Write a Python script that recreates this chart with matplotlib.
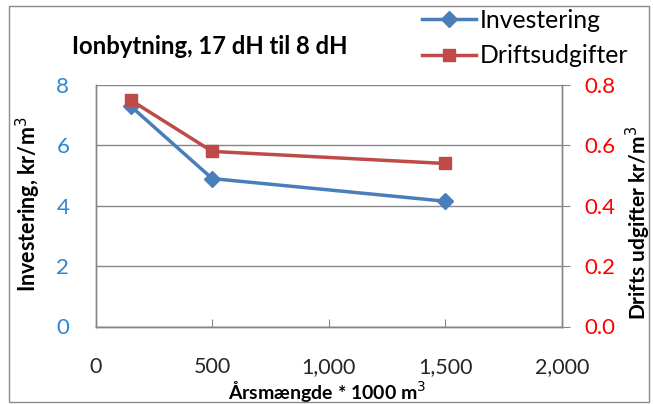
import matplotlib
matplotlib.use("Agg")
import matplotlib.pyplot as plt
from matplotlib.patches import Rectangle
from matplotlib.lines import Line2D

plt.rcParams['font.family'] = ['Lato', 'DejaVu Sans']

# Data
years = [150, 500, 1500]
investering = [7.3, 4.9, 4.15]
drift = [0.75, 0.58, 0.54]
x_ticks = [0, 500, 1000, 1500, 2000]
x_ticklabels = ['0', '500', '1,000', '1,500', '2,000']
left_ticks = [0, 2, 4, 6, 8]
right_ticks = [0.0, 0.2, 0.4, 0.6, 0.8]

blue = '#4A7EBB'
red = '#BE4B48'
grid_c = '#868686'

W, H = 653, 404
fig = plt.figure(figsize=(W / 100, H / 100), dpi=100)
fig.patch.set_facecolor('white')
fig.add_artist(Rectangle((9/W, 0.005), 1 - 13/W, 1 - 0.005 - 6/H,
                         transform=fig.transFigure, fill=False,
                         edgecolor='#8c8c8c', lw=1.0))

ax_l, ax_r, ax_t, ax_b = 95.7, 561.7, 85, 326.5
ax = fig.add_axes([ax_l/W, 1 - ax_b/H, (ax_r - ax_l)/W, (ax_b - ax_t)/H])
ax2 = ax.twinx()

ax.plot(years, investering, color=blue, lw=2.5, marker='D', ms=8,
        markerfacecolor=blue, markeredgecolor=blue, zorder=3)
ax2.plot(years, drift, color=red, lw=2.5, marker='s', ms=9,
         markerfacecolor=red, markeredgecolor=red, zorder=3)

ax.set_xlim(0, 2000)
ax.set_ylim(0, 8)
ax2.set_ylim(0, 0.8)

ax.set_xticks(x_ticks)
ax.set_xticklabels(x_ticklabels, fontsize=15.5, color='#262626')
ax.set_yticks(left_ticks)
ax.set_yticklabels([str(v) for v in left_ticks], fontsize=16, color='#2E86D0')
ax2.set_yticks(right_ticks)
ax2.set_yticklabels([f'{v:.1f}' for v in right_ticks], fontsize=16, color='#FF0000')

ax.yaxis.grid(True, color=grid_c, lw=1.0)
ax.set_axisbelow(True)

for a in (ax, ax2):
    for s in a.spines.values():
        s.set_color(grid_c)
        s.set_linewidth(1.0)
    a.spines['top'].set_visible(False)

ax.tick_params(axis='x', direction='in', length=6, color=grid_c, pad=22)
ax.tick_params(axis='y', length=0, pad=19)
ax2.tick_params(axis='y', direction='out', length=6, color=grid_c, pad=10)

ax.set_ylabel('Investering, kr/m$^3$', fontsize=15.5, fontweight='bold')
ax.yaxis.set_label_coords((28 - ax_l) / (ax_r - ax_l), (ax_b - 204) / (ax_b - ax_t))
ax.yaxis.label.set_va('center')
ax.yaxis.label.set_ha('center')
ax2.set_ylabel('Drifts udgifter kr/m$^3$', fontsize=15, fontweight='bold',
               rotation=90)
ax2.yaxis.set_label_coords((638 - ax_l) / (ax_r - ax_l), (ax_b - 223) / (ax_b - ax_t))
ax2.yaxis.label.set_va('center')
ax2.yaxis.label.set_ha('center')
ax.set_xlabel('Årsmængde * 1000 m$^3$', fontsize=14, fontweight='bold')
ax.xaxis.set_label_coords((327 - ax_l) / (ax_r - ax_l), -(391 - ax_b) / (ax_b - ax_t))
ax.xaxis.label.set_va('center')

fig.text(72/W, 1 - 46/H, 'Ionbytning, 17 dH til 8 dH', fontsize=17.2,
         fontweight='bold', va='center', ha='left')

handles = [Line2D([], [], color=blue, lw=2.5, marker='D', ms=8),
           Line2D([], [], color=red, lw=2.5, marker='s', ms=9)]
fig.legend(handles, ['Investering', 'Driftsudgifter'], loc='upper left',
           bbox_to_anchor=(422/W, 1 - 9/H), frameon=False, fontsize=17.8,
           handlelength=2.2, handletextpad=0.15, labelspacing=0.5,
           borderaxespad=0, borderpad=0)

fig.savefig('out.png', dpi=100, facecolor='white')
